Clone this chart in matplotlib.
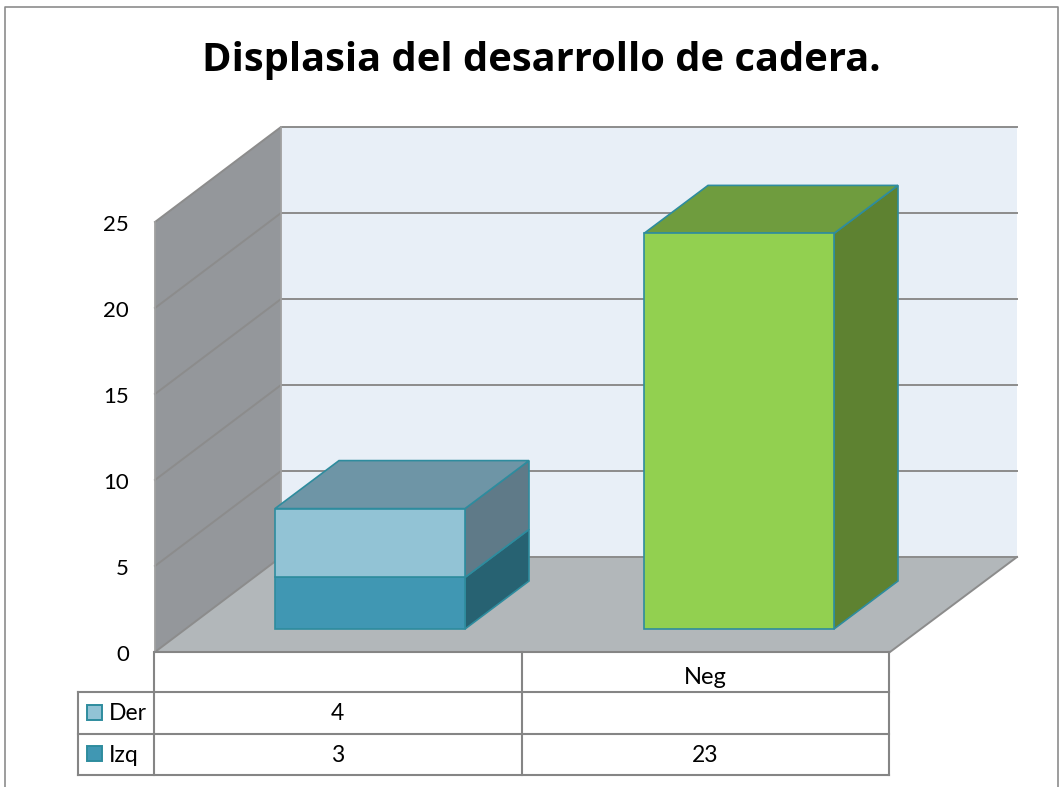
import matplotlib
matplotlib.use("Agg")
import matplotlib.pyplot as plt
from matplotlib.patches import Polygon, Rectangle

categories = ["", "Neg"]
der = [4, 0]
izq = [3, 23]
der_labels = ["4", ""]
izq_labels = ["3", "23"]
ticks = [0, 5, 10, 15, 20, 25]
title = "Displasia del desarrollo de cadera."

plt.rcParams["font.family"] = ["Lato", "DejaVu Sans"]

fig = plt.figure(figsize=(10.64, 7.87), dpi=100)
ax = fig.add_axes([0, 0, 1, 1])
ax.set_xlim(0, 1064)
ax.set_ylim(787, 0)
ax.axis("off")

# layout of the fake 3d plot, in pixels
x0, x1 = 155, 890
y0 = 652
unit = 17.2
dx, dy = 126, 95
bar_base = 629
bar_w = 190
bar_left = [275, 644]
bdx, bdy = 64, 48


def poly(pts, fc, ec="none", lw=1.0, z=2):
    ax.add_patch(Polygon(pts, closed=True, facecolor=fc, edgecolor=ec, linewidth=lw, zorder=z))


def box(x, bottom, top, front, side, lid, show_top=True):
    ec = "#2E8C9E"
    ybot = bar_base - bottom * unit
    ytop = bar_base - top * unit
    poly([(x + bar_w, ybot), (x + bar_w + bdx, ybot - bdy), (x + bar_w + bdx, ytop - bdy), (x + bar_w, ytop)], side, ec, 1.2, 4)
    if show_top:
        poly([(x, ytop), (x + bdx, ytop - bdy), (x + bar_w + bdx, ytop - bdy), (x + bar_w, ytop)], lid, ec, 1.2, 4)
    poly([(x, ybot), (x + bar_w, ybot), (x + bar_w, ytop), (x, ytop)], front, ec, 1.2, 5)


# outer frame
ax.plot([5, 5, 1058, 1058], [787, 7, 7, 787], color="#8C8C8C", lw=1.2, zorder=1)

# back wall, side wall, floor
ytop_front = y0 - ticks[-1] * unit
poly([(x0 + dx, y0 - dy), (1017, y0 - dy), (1017, ytop_front - dy), (x0 + dx, ytop_front - dy)], "#E8EFF7", z=1)
poly([(x0, y0), (x0 + dx, y0 - dy), (x0 + dx, ytop_front - dy), (x0, ytop_front)], "#94979B", z=1)
poly([(x0, y0), (x1, y0), (1017, y0 - dy), (x0 + dx, y0 - dy)], "#B2B7BA", z=1)

# gridlines
for t in ticks:
    y = y0 - t * unit
    ax.plot([x0, x0 + dx, 1017], [y, y - dy, y - dy], color="#8C8C8C", lw=1.4, zorder=2)
ax.plot([x0, x0], [y0, ytop_front], color="#A0A0A0", lw=1.3, zorder=2)
ax.plot([x0 + dx, x0 + dx], [y0 - dy, ytop_front - dy], color="#A0A0A0", lw=1.3, zorder=2)
ax.plot([x1, 1017], [y0, y0 - dy], color="#8C8C8C", lw=1.4, zorder=2)

for t in ticks:
    ax.text(129, y0 - t * unit + 3, str(t), ha="right", va="center", fontsize=16, color="black")

# bars
box(bar_left[0], 0, izq[0], "#4097B3", "#276272", "#276272", show_top=False)
box(bar_left[0], izq[0], izq[0] + der[0], "#92C3D5", "#5F7A88", "#6E95A6")
box(bar_left[1], 0, izq[1], "#92D050", "#5E8231", "#6F9C3E")

# data table
tbl = "#858585"
row_y = [652, 692, 734, 775]
col_x = [154, 522, 889]
for y in row_y:
    ax.plot([x0 if y == row_y[0] else 78, col_x[-1]], [y, y], color=tbl, lw=1.5, zorder=3)
for x in col_x:
    ax.plot([x, x], [row_y[0], row_y[-1]], color=tbl, lw=1.5, zorder=3)
ax.plot([78, 78], [row_y[1], row_y[-1]], color=tbl, lw=1.5, zorder=3)

for i, c in enumerate(categories):
    xc = (col_x[i] + col_x[i + 1]) / 2
    ax.text(xc, 678, c, ha="center", va="center", fontsize=17)
    ax.text(xc - 1, 714, der_labels[i], ha="center", va="center", fontsize=16.5)
    ax.text(xc, 756, izq_labels[i], ha="center", va="center", fontsize=16.5)

ax.add_patch(Rectangle((87, 705), 15, 15, facecolor="#92C3D5", edgecolor="#2E8C9E", lw=1.4, zorder=4))
ax.add_patch(Rectangle((87, 746), 15, 15, facecolor="#4097B3", edgecolor="#2E8C9E", lw=1.4, zorder=4))
ax.text(109, 713, "Der", ha="left", va="center", fontsize=16.5)
ax.text(109, 755, "Izq", ha="left", va="center", fontsize=16.5)

ax.text(541, 61, title, ha="center", va="center", fontsize=28.7, fontweight="bold", family=["Open Sans", "DejaVu Sans"])

fig.savefig("out.png", dpi=100)
